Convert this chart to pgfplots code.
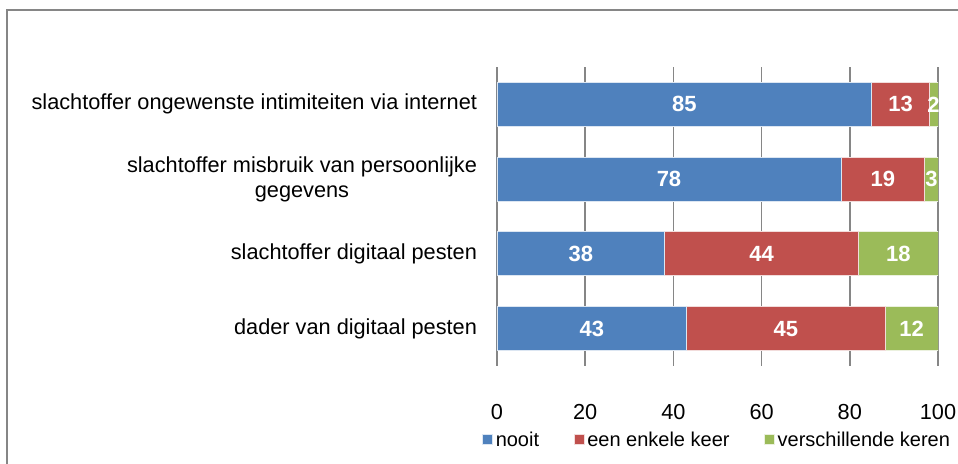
\documentclass[border=0pt]{standalone}
\usepackage{pgfplots}
\pgfplotsset{compat=1.18}
\usepackage{pgfplotstable}
\usepackage{fontspec}
\setmainfont{Liberation Sans}
\definecolor{cblue}{HTML}{4F81BD}
\definecolor{cred}{HTML}{C0504D}
\definecolor{cgreen}{HTML}{9BBB59}
\definecolor{cgrid}{HTML}{868686}
\pgfplotstableread{
y nooit enkele versch
0 43 45 12
1 38 44 18
2 78 19 3
3 85 13 2
}\data
\pgfplotstableread{
x y lbl
21.5 0 43
65.5 0 45
94 0 12
19 1 38
60 1 44
91 1 18
39 2 78
87.5 2 19
98.5 2 3
42.5 3 85
91.5 3 13
99 3 2
}\labels
\begin{document}
\begin{tikzpicture}
\useasboundingbox (0,0) rectangle (718.5pt,348pt);
\draw[cgrid, line width=1.1pt] (5.25pt,0) -- (5.25pt,340.5pt) -- (718.5pt,340.5pt);
\begin{axis}[
  at={(372.75pt,73.5pt)}, anchor=south west,
  scale only axis, width=330.75pt, height=224.25pt,
  xbar stacked, bar width=33pt,
  xmin=0, xmax=100, ymin=-0.5, ymax=3.5,
  xtick={0,20,40,60,80,100},
  ytick={0,1,2,3},
  yticklabels={dader van digitaal pesten, slachtoffer digitaal pesten, {slachtoffer misbruik van persoonlijke\\gegevens}, slachtoffer ongewenste intimiteiten via internet},
  yticklabel style={align=center, font=\fontsize{16.3}{18.6}\selectfont, xshift=-11.5pt},
  xticklabel style={font=\fontsize{16.3}{18.6}\selectfont, yshift=-25.5pt},
  /pgf/number format/assume math mode=true,
  major tick length=0pt,
  axis line style={draw=none},
  xmajorgrids, grid style={cgrid, line width=1.3pt},
  legend columns=3,
  legend style={at={(0.5,-0.247)}, anchor=center, draw=none, font=\fontsize{15}{18}\selectfont, column sep=0pt, /tikz/every even column/.append style={column sep=24pt}},
  legend image code/.code={\fill[#1] (0pt,-3.75pt) rectangle (7.5pt,3.75pt);},
]
\addplot[fill=cblue, draw=white!80!cblue, line width=0.6pt] table[x=nooit, y=y]{\data};
\addplot[fill=cred, draw=white!80!cred, line width=0.6pt] table[x=enkele, y=y]{\data};
\addplot[fill=cgreen, draw=white!80!cgreen, line width=0.6pt] table[x=versch, y=y]{\data};
\legend{nooit, een enkele keer, verschillende keren}
\end{axis}
\begin{axis}[
  at={(372.75pt,73.5pt)}, anchor=south west,
  scale only axis, width=330.75pt, height=224.25pt,
  xmin=0, xmax=100, ymin=-0.5, ymax=3.5, hide axis,
]
\addplot[draw=none, mark=none, point meta=explicit symbolic, nodes near coords,
  every node near coord/.append style={anchor=center, text=white, font=\fontsize{16.5}{18}\selectfont\bfseries}]
  table[x=x, y=y, meta=lbl]{\labels};
\end{axis}
\end{tikzpicture}
\end{document}
